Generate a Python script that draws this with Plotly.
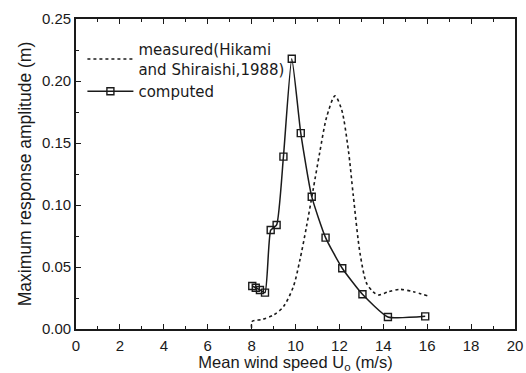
import plotly.graph_objects as go

# computed series
comp_x = [8.03, 8.19, 8.38, 8.61, 8.87, 9.14, 9.45, 9.83, 10.24, 10.74, 11.37, 12.13, 13.05, 14.21, 15.91]
comp_y = [0.0347, 0.0333, 0.0315, 0.0293, 0.0798, 0.0839, 0.139, 0.218, 0.158, 0.1067, 0.0737, 0.049, 0.028, 0.0097, 0.0102]

# measured series (Hikami and Shiraishi, 1988)
meas_x = [8.0, 8.02, 8.5, 9.0, 9.45, 9.9, 10.2, 10.5, 10.8, 11.1, 11.42, 11.8, 12.1, 12.41, 12.63, 12.94, 13.24, 13.54, 13.77, 14.23, 14.76, 15.37, 16.05]
meas_y = [0.001, 0.006, 0.0078, 0.0113, 0.018, 0.034, 0.0556, 0.0825, 0.112, 0.142, 0.171, 0.188, 0.177, 0.144, 0.108, 0.061, 0.0368, 0.030, 0.0274, 0.030, 0.032, 0.030, 0.0266]

x_ticks = [0, 2, 4, 6, 8, 10, 12, 14, 16, 18, 20]
y_ticks = [0.00, 0.05, 0.10, 0.15, 0.20, 0.25]

font_fam = "Liberation Sans, Arial, sans-serif"
ink = "#1a1a1a"

fig = go.Figure()
fig.add_trace(go.Scatter(
    x=meas_x, y=meas_y, mode="lines",
    name="measured(Hikami<br>and Shiraishi,1988)",
    line=dict(color=ink, width=1.6, dash="dot", shape="spline", smoothing=0.8),
))
fig.add_trace(go.Scatter(
    x=comp_x, y=comp_y, mode="lines+markers",
    name="computed",
    line=dict(color=ink, width=1.5, shape="spline", smoothing=0.5),
    marker=dict(symbol="square-open", size=7, color=ink, line=dict(width=1.4)),
))

axis_common = dict(
    showgrid=False, zeroline=False, automargin=False,
    showline=True, linecolor=ink, linewidth=1.8,
    ticks="inside", ticklen=5, tickwidth=1.3, tickcolor=ink,
    tickfont=dict(family=font_fam, size=15, color=ink),
)

fig.update_layout(
    width=526, height=373,
    margin=dict(l=76, r=11, t=19, b=44),
    paper_bgcolor="white", plot_bgcolor="white",
    font=dict(family=font_fam, color=ink),
    showlegend=True,
    legend=dict(
        x=0.0146, y=0.955, xanchor="left", yanchor="top",
        bgcolor="rgba(0,0,0,0)", borderwidth=0,
        font=dict(family="DejaVu Sans, sans-serif", size=15, color=ink),
        tracegroupgap=0, itemwidth=46,
    ),
    xaxis=dict(
        axis_common,
        range=[0, 20], tickvals=x_ticks, ticktext=[str(v) for v in x_ticks],
        mirror="ticks", ticklabelstandoff=2,
        minor=dict(ticks="inside", ticklen=3, tickcolor=ink, dtick=1),
        title=dict(text="Mean wind speed U<sub>o</sub> (m/s)",
                   font=dict(family=font_fam, size=16.5, color=ink), standoff=7),
    ),
    yaxis=dict(
        axis_common,
        range=[0, 0.25], tickvals=y_ticks, ticktext=[f"{v:.2f}" for v in y_ticks],
        mirror=True,
        minor=dict(ticks="inside", ticklen=3, tickcolor=ink, dtick=0.025),
        title=dict(text="Maximum response amplitude (m)",
                   font=dict(family=font_fam, size=17.5, color=ink), standoff=6),
    ),
)

fig.write_html("out.html")
